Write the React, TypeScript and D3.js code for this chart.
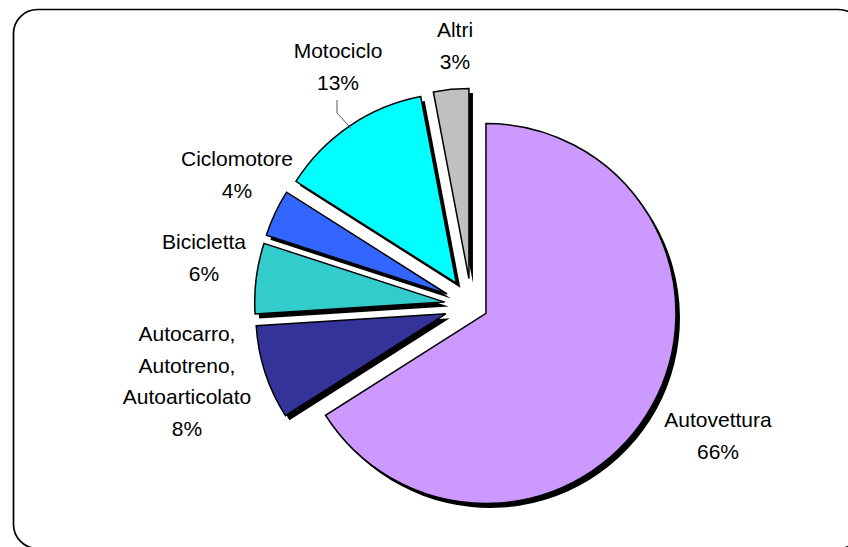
import React from "react";
import * as d3 from "d3";

const categories = ["Autovettura", "Autocarro, Autotreno, Autoarticolato", "Bicicletta", "Ciclomotore", "Motociclo", "Altri"];
const labelLines = [["Autovettura"], ["Autocarro,", "Autotreno,", "Autoarticolato"], ["Bicicletta"], ["Ciclomotore"], ["Motociclo"], ["Altri"]];
const values = [66, 8, 6, 4, 13, 3];
const colors = ["#CC99FF", "#333399", "#33CCCC", "#3366FF", "#00FFFF", "#C0C0C0"];

// layout
const W = 848, H = 547;
const CX = 471.5, CY = 305.5, R = 190;
const EXPLODE = [16.5, 27, 27, 27, 27, 27];
const SHADOW = { dx: 4, dy: 4.5 };
// label anchor (center x, first baseline y)
const LABEL_POS: [number, number][] = [
  [718, 427],
  [187, 341],
  [204, 249],
  [237, 166],
  [338, 58],
  [455, 37],
];
const LINE_H = 31.5;

export default function App() {
  const pie = d3.pie<number>().sort(null).value((d) => d).startAngle(0).endAngle(Math.PI * 2);
  const arcs = pie(values);
  const arcGen = d3.arc<d3.PieArcDatum<number>>().innerRadius(0).outerRadius(R);
  const total = d3.sum(values);

  const offsets = arcs.map((a, i) => {
    const mid = (a.startAngle + a.endAngle) / 2;
    return [Math.sin(mid) * EXPLODE[i], -Math.cos(mid) * EXPLODE[i]];
  });

  // leader line for Motociclo
  const mi = 4;
  const mMid = (arcs[mi].startAngle + arcs[mi].endAngle) / 2;
  const lx = CX + offsets[mi][0] + Math.sin(mMid) * (R - 3);
  const ly = CY + offsets[mi][1] - Math.cos(mMid) * (R - 3);

  return (
    <svg width={W} height={H} style={{ position: "absolute", left: 0, top: 0, background: "#fff" }}>
      <rect x={13.5} y={9.5} width={849} height={539} rx={24} ry={24} fill="#fff" stroke="#000" strokeWidth={1.7} />
      <g transform={`translate(${CX},${CY})`}>
        {arcs.map((a, i) => (
          <path
            key={"s" + i}
            d={arcGen(a) || ""}
            transform={`translate(${offsets[i][0] + SHADOW.dx},${offsets[i][1] + SHADOW.dy})`}
            fill="#000"
          />
        ))}
        {arcs.map((a, i) => (
          <path
            key={"p" + i}
            d={arcGen(a) || ""}
            transform={`translate(${offsets[i][0]},${offsets[i][1]})`}
            fill={colors[i]}
            stroke="#000"
            strokeWidth={1.5}
            strokeLinejoin="miter"
          />
        ))}
      </g>
      <polyline
        points={`${LABEL_POS[mi][0] - 1},${LABEL_POS[mi][1] + 42} ${LABEL_POS[mi][0] - 1},${LABEL_POS[mi][1] + 55} ${lx},${ly}`}
        fill="none"
        stroke="#555"
        strokeWidth={1}
      />
      {categories.map((c, i) => {
        const lines = [...labelLines[i], `${Math.round((values[i] / total) * 100)}%`];
        return (
          <text
            key={"t" + i}
            x={LABEL_POS[i][0]}
            y={LABEL_POS[i][1]}
            textAnchor="middle"
            fontFamily="'Liberation Sans', Arial, sans-serif"
            fontSize={21}
            fill="#000"
          >
            {lines.map((l, j) => (
              <tspan key={j} x={LABEL_POS[i][0]} dy={j === 0 ? 0 : LINE_H}>
                {l}
              </tspan>
            ))}
          </text>
        );
      })}
    </svg>
  );
}
